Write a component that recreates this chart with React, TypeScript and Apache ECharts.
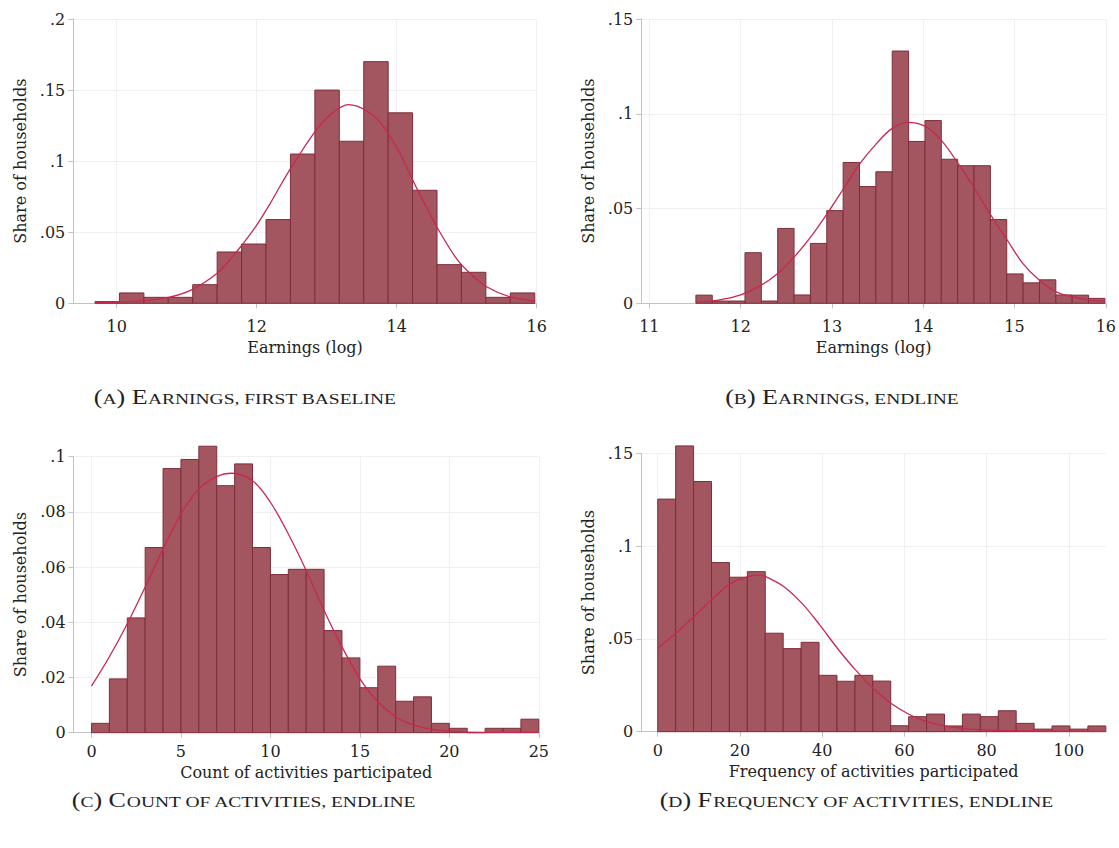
import React, { useEffect, useRef } from "react";
import * as echarts from "echarts";

// (A) Log earnings, first baseline
const earnBaseBinStart = 9.69;
const earnBaseBinWidth = 0.349;
const earnBaseShares = [
  0.0012, 0.0073, 0.0042, 0.0042, 0.0131, 0.0361, 0.0417, 0.0589, 0.105,
  0.15, 0.114, 0.17, 0.134, 0.0795, 0.0272, 0.0218, 0.0042, 0.0073,
];
const earnBaseNormal = [
  [9.69, 0.0005], [10.0, 0.0009], [10.38, 0.0019], [10.74, 0.0042], [11.07, 0.0095],
  [11.43, 0.021], [11.64, 0.032], [11.79, 0.041], [12.0, 0.055], [12.19, 0.07],
  [12.37, 0.0855], [12.55, 0.1], [12.86, 0.1225], [13.05, 0.1325], [13.31, 0.1398],
  [13.57, 0.1355], [13.81, 0.1245], [14.05, 0.105], [14.24, 0.0855], [14.4, 0.07],
  [14.57, 0.054], [14.86, 0.031], [15.05, 0.021], [15.29, 0.0115], [15.62, 0.0045],
  [15.98, 0.0015],
];
const earnBaseXTicks = [10, 12, 14, 16];
const earnBaseYTicks = [0, 0.05, 0.1, 0.15, 0.2];

// (B) Log earnings, endline
const earnEndBinStart = 11.51;
const earnEndBinWidth = 0.1792;
const earnEndShares = [
  0.0043, 0.0012, 0.0012, 0.0267, 0.0012, 0.0395, 0.0044, 0.0316, 0.0489, 0.0743,
  0.0616, 0.0694, 0.1331, 0.0854, 0.0964, 0.076, 0.0726, 0.0726, 0.0442, 0.0155,
  0.0108, 0.0124, 0.0044, 0.0043, 0.0026,
];
const earnEndNormal = [
  [11.51, 0.0006], [11.77, 0.0018], [12.0, 0.0044], [12.23, 0.0097], [12.41, 0.0158],
  [12.59, 0.0246], [12.77, 0.0352], [12.95, 0.0475], [13.13, 0.0607], [13.31, 0.0739],
  [13.49, 0.0844], [13.66, 0.0923], [13.83, 0.0955], [14.03, 0.0932], [14.21, 0.0853],
  [14.38, 0.0739], [14.56, 0.0607], [14.74, 0.0466], [14.92, 0.0334], [15.09, 0.0211],
  [15.27, 0.0123], [15.45, 0.0062], [15.63, 0.0035], [15.81, 0.0018], [15.99, 0.0011],
];
const earnEndXTicks = [11, 12, 13, 14, 15, 16];
const earnEndYTicks = [0, 0.05, 0.1, 0.15];

// (C) Count of activities, endline
const countBinStart = 0;
const countBinWidth = 1;
const countShares = [
  0.0034, 0.0195, 0.0416, 0.0671, 0.0957, 0.099, 0.1038, 0.0895, 0.0974, 0.0671,
  0.0573, 0.0592, 0.0592, 0.037, 0.0271, 0.0163, 0.0241, 0.0114, 0.013, 0.0034,
  0.0016, 0, 0.0016, 0.0016, 0.0049,
];
const countNormal = [
  [0, 0.0169], [1, 0.0275], [2, 0.0395], [3, 0.0528], [4, 0.0665], [5, 0.0793],
  [6, 0.0883], [7, 0.0928], [7.85, 0.094], [9, 0.0913], [10, 0.0835], [11, 0.072],
  [12, 0.0588], [13, 0.0443], [14, 0.0311], [15, 0.0196], [16, 0.0112], [17, 0.0058],
  [18, 0.0028], [19, 0.0012], [20, 0.0006], [21, 0.0002], [23, 0.0001], [25, 0.0001],
];
const countXTicks = [0, 5, 10, 15, 20, 25];
const countYTicks = [0, 0.02, 0.04, 0.06, 0.08, 0.1];

// (D) Frequency of activities, endline
const freqBinStart = 0;
const freqBinWidth = 4.36;
const freqShares = [
  0.1254, 0.1541, 0.1349, 0.0912, 0.0833, 0.0863, 0.0531, 0.0448, 0.0482, 0.0304,
  0.0272, 0.0304, 0.0273, 0.0032, 0.0081, 0.0095, 0.0031, 0.0095, 0.0081, 0.0113,
  0.0045, 0.0014, 0.0031, 0.0014, 0.0031,
];
const freqNormal = [
  [0, 0.045], [4.4, 0.0531], [8.8, 0.062], [13.2, 0.0714], [17.6, 0.0797], [21.9, 0.0836],
  [24.9, 0.0844], [26.3, 0.0836], [30.7, 0.0782], [35.1, 0.0692], [39.4, 0.0576],
  [43.7, 0.045], [48.1, 0.0333], [52.4, 0.0234], [56.7, 0.0153], [61.1, 0.0094],
  [65.4, 0.0054], [69.8, 0.0031], [74.1, 0.0018], [78.4, 0.0011], [82.8, 0.0007],
  [87.2, 0.0005], [95, 0.0003], [109, 0.0002],
];
const freqXTicks = [0, 20, 40, 60, 80, 100];
const freqYTicks = [0, 0.05, 0.1, 0.15];

const yTitle = "Share of households";

const BAR_FILL = "#a3565f";
const BAR_EDGE = "#7d2e3a";
const CURVE = "#c8284f";
const AXIS_GRAY = "#c2c2c2";
const GRID_GRAY = "#eef0f3";
const TEXT = "#222222";
const AXIS_FONT = "DejaVu Serif";
const CAPTION_FONT = "Liberation Serif";

type Panel = {
  grid: { left: number; top: number; width: number; height: number };
  xMin: number;
  xMax: number;
  xTicks: number[];
  yTicks: number[];
  xTitle: string;
  xLabelMargin: number;
  xNameGap: number;
  binStart: number;
  binWidth: number;
  shares: number[];
  normal: number[][];
};

const panels: Panel[] = [
  {
    grid: { left: 73.3, top: 19, width: 463.4, height: 284.3 },
    xMin: 9.38, xMax: 16, xTicks: earnBaseXTicks, yTicks: earnBaseYTicks,
    xTitle: "Earnings (log)", xLabelMargin: 15, xNameGap: 36,
    binStart: earnBaseBinStart, binWidth: earnBaseBinWidth,
    shares: earnBaseShares, normal: earnBaseNormal,
  },
  {
    grid: { left: 641.3, top: 19, width: 465, height: 284.3 },
    xMin: 10.912, xMax: 16, xTicks: earnEndXTicks, yTicks: earnEndYTicks,
    xTitle: "Earnings (log)", xLabelMargin: 15, xNameGap: 36,
    binStart: earnEndBinStart, binWidth: earnEndBinWidth,
    shares: earnEndShares, normal: earnEndNormal,
  },
  {
    grid: { left: 73.6, top: 456.7, width: 465.2, height: 276 },
    xMin: -1, xMax: 25, xTicks: countXTicks, yTicks: countYTicks,
    xTitle: "Count of activities participated", xLabelMargin: 11, xNameGap: 32,
    binStart: countBinStart, binWidth: countBinWidth,
    shares: countShares, normal: countNormal,
  },
  {
    grid: { left: 641.3, top: 453.5, width: 464.5, height: 278.2 },
    xMin: -4, xMax: 109, xTicks: freqXTicks, yTicks: freqYTicks,
    xTitle: "Frequency of activities participated", xLabelMargin: 11, xNameGap: 32,
    binStart: freqBinStart, binWidth: freqBinWidth,
    shares: freqShares, normal: freqNormal,
  },
];

const captions = [
  { x: 245, y: 397, big1: "(", small1: "A", big2: ") E", small2: "ARNINGS, FIRST BASELINE" },
  { x: 842, y: 397, big1: "(", small1: "B", big2: ") E", small2: "ARNINGS, ENDLINE" },
  { x: 244, y: 800, big1: "(", small1: "C", big2: ") C", small2: "OUNT OF ACTIVITIES, ENDLINE" },
  { x: 857, y: 800, big1: "(", small1: "D", big2: ") F", small2: "REQUENCY OF ACTIVITIES, ENDLINE" },
];

const shareLabel = (v: number) => {
  if (v === 0) return "0";
  return String(+v.toFixed(3)).replace(/^0\./, ".");
};

function buildOption() {
  const tickLine = { color: AXIS_GRAY, width: 1 };
  const labelFont = { fontFamily: AXIS_FONT, fontSize: 16, color: TEXT };

  const grid = panels.map((p) => ({ ...p.grid, containLabel: false }));

  const xAxis = panels.map((p, i) => ({
    type: "value",
    gridIndex: i,
    min: p.xMin,
    max: p.xMax,
    name: p.xTitle,
    nameLocation: "middle",
    nameGap: p.xNameGap,
    nameTextStyle: labelFont,
    axisLine: { show: true, onZero: false, lineStyle: tickLine },
    axisTick: { show: true, length: 5, customValues: p.xTicks, lineStyle: tickLine },
    axisLabel: { customValues: p.xTicks, margin: p.xLabelMargin, ...labelFont },
    splitLine: { show: true, lineStyle: { color: GRID_GRAY, width: 1 } },
  }));

  const yAxis = panels.map((p, i) => ({
    type: "value",
    gridIndex: i,
    min: p.yTicks[0],
    max: p.yTicks[p.yTicks.length - 1],
    interval: p.yTicks[1] - p.yTicks[0],
    name: yTitle,
    nameLocation: "middle",
    nameGap: 45,
    nameTextStyle: labelFont,
    axisLine: { show: true, onZero: false, lineStyle: tickLine },
    axisTick: { show: true, length: 5, lineStyle: tickLine },
    axisLabel: { margin: 8, formatter: shareLabel, ...labelFont },
    splitLine: { show: true, lineStyle: { color: GRID_GRAY, width: 1 } },
  }));

  const series: any[] = [];
  panels.forEach((p, i) => {
    series.push({
      type: "custom",
      xAxisIndex: i,
      yAxisIndex: i,
      clip: false,
      encode: { x: [0, 1], y: 2 },
      data: p.shares.map((h, k) => [
        p.binStart + k * p.binWidth,
        p.binStart + (k + 1) * p.binWidth,
        h,
      ]),
      renderItem: (_params: any, api: any) => {
        const top = api.coord([api.value(0), api.value(2)]);
        const base = api.coord([api.value(1), 0]);
        return {
          type: "rect",
          shape: {
            x: top[0],
            y: top[1],
            width: base[0] - top[0],
            height: base[1] - top[1],
          },
          style: { fill: BAR_FILL, stroke: BAR_EDGE, lineWidth: 1 },
        };
      },
      z: 2,
    });
    series.push({
      type: "line",
      xAxisIndex: i,
      yAxisIndex: i,
      data: p.normal,
      showSymbol: false,
      smooth: 0.35,
      lineStyle: { color: CURVE, width: 1.3 },
      z: 3,
    });
  });

  const graphic = captions.map((c) => ({
    type: "group",
    x: c.x,
    y: c.y,
    scaleX: 1.3,
    children: [
      {
        type: "text",
        x: 0,
        y: 0,
        style: {
          text: `{b|${c.big1}}{s|${c.small1}}{b|${c.big2}}{s|${c.small2}}`,
          align: "center",
          verticalAlign: "middle",
          fill: TEXT,
          rich: {
            b: { fontFamily: CAPTION_FONT, fontSize: 20, lineHeight: 20, verticalAlign: "bottom", fill: TEXT },
            s: { fontFamily: CAPTION_FONT, fontSize: 15, lineHeight: 15, verticalAlign: "bottom", fill: TEXT },
          },
        },
      },
    ],
  }));

  return {
    animation: false,
    backgroundColor: "#ffffff",
    grid,
    xAxis,
    yAxis,
    series,
    graphic,
  };
}

export default function App() {
  const ref = useRef<HTMLDivElement>(null);

  useEffect(() => {
    if (!ref.current) return;
    const chart = echarts.init(ref.current, undefined, { renderer: "svg" });
    chart.setOption(buildOption() as any);
    return () => chart.dispose();
  }, []);

  return (
    <div
      ref={ref}
      style={{ position: "absolute", left: 0, top: 0, width: 1119, height: 848, background: "#fff" }}
    />
  );
}
